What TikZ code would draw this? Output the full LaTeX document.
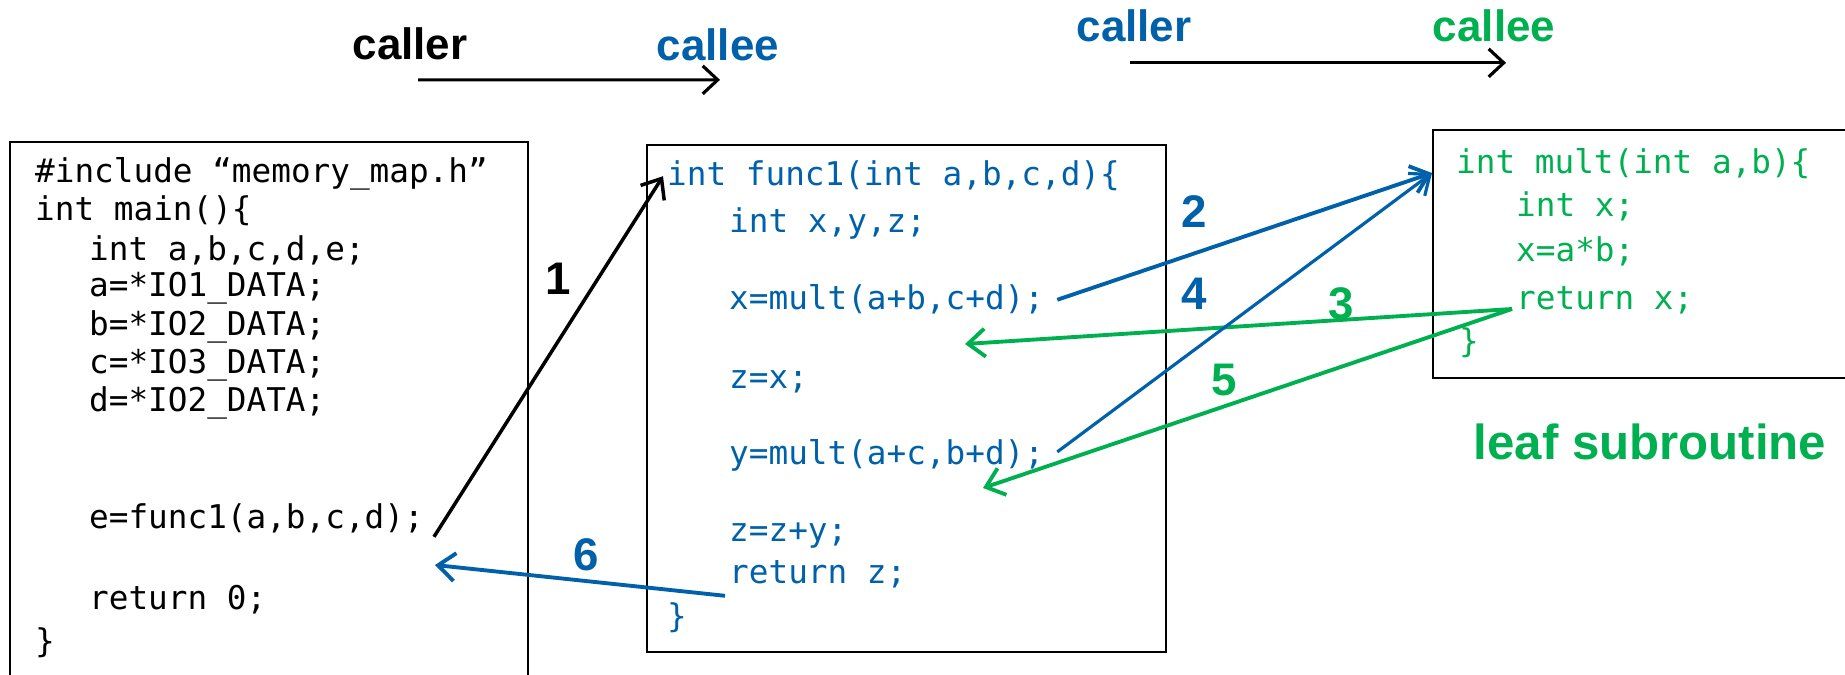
\documentclass[tikz,border=0pt]{standalone}
\usepackage{fontspec}
\setmainfont{Liberation Sans}
\newfontfamily\codefont{DejaVu Sans Mono}
\usetikzlibrary{arrows.meta}

\definecolor{callblue}{RGB}{0,97,170}
\definecolor{leafgreen}{RGB}{0,176,80}

\tikzset{
  code/.style={font=\codefont\fontsize{9.3}{11}\selectfont, inner sep=1pt, anchor=base west},
  codebox/.style={draw, semithick, inner sep=0pt, anchor=north west},
  role/.style={font=\fontsize{12.5}{14}\selectfont\bfseries, anchor=base},
  stepnum/.style={font=\fontsize{13}{15}\selectfont\bfseries},
  flow/.style={-{Straight Barb[length=1.7mm,width=2.8mm]}, line width=1.1pt},
  hint/.style={-{Straight Barb[length=1.5mm,width=2.8mm]}, line width=0.9pt},
}

\begin{document}
\begin{tikzpicture}[x=0.1mm, y=-0.1mm]
  \useasboundingbox (0,0) rectangle (1845,675);

  % caller -> callee legends
  \node[role] (caller1) at (410,60) {caller};
  \node[role, text=callblue] (callee1) at (718,61) {callee};
  \draw[hint] ([shift={(0.8mm,-0.7mm)}]caller1.south) -- ([shift={(0.2mm,-0.6mm)}]callee1.south);

  \node[role, text=callblue] (caller2) at (1134,42) {caller};
  \node[role, text=leafgreen] (callee2) at (1494,42) {callee};
  \draw[hint] ([shift={(-0.4mm,-0.8mm)}]caller2.south) -- ([shift={(1.2mm,-0.8mm)}]callee2.south);

  % main()
  \node[codebox, minimum width=51.8mm, minimum height=56mm] (mainbox) at (9,141) {};
  \node[code] (inc)   at (31,183) {\#include “memory\_map.h”};
  \node[code] (mainhd) at (31,221) {int main()\{};
  \node[code] (decl)  at (85,260) {int a,b,c,d,e;};
  \node[code] (rda)   at (85,297) {a=*IO1\_DATA;};
  \node[code] (rdb)   at (85,336) {b=*IO2\_DATA;};
  \node[code] (rdc)   at (85,374) {c=*IO3\_DATA;};
  \node[code] (rdd)   at (85,411) {d=*IO2\_DATA;};
  \node[code] (efunc) at (85,528) {e=func1(a,b,c,d);};
  \node[code] (ret0)  at (85,609) {return 0;};
  \node[code] (mainend) at (31,652) {\}};

  % func1()
  \node[codebox, minimum width=51.9mm, minimum height=50.7mm] (funcbox) at (646,144) {};
  \begin{scope}[every node/.append style={text=callblue}]
    \node[code] (func1) at (663,186) {int func1(int a,b,c,d)\{};
    \node[code] (fdecl) at (725,233) {int x,y,z;};
    \node[code] (xmult) at (725,310) {x=mult(a+b,c+d);};
    \node[code] (zx)    at (725,388) {z=x;};
    \node[code] (ymult) at (725,464) {y=mult(a+c,b+d);};
    \node[code] (zsum)  at (725,541) {z=z+y;};
    \node[code] (retz)  at (725,583) {return z;};
    \node[code] (funcend) at (663,627) {\}};
  \end{scope}

  % mult(), the leaf
  \node[codebox, minimum width=46.8mm, minimum height=24.8mm] (leafbox) at (1432,129) {};
  \begin{scope}[every node/.append style={text=leafgreen}]
    \node[code] (multhd) at (1452,174) {int mult(int a,b)\{};
    \node[code] (mdecl)  at (1512,217) {int x;};
    \node[code] (mprod)  at (1512,262) {x=a*b;};
    \node[code] (retx)   at (1512,309) {return x;};
    \node[code] (multend) at (1455,353) {\}};
  \end{scope}
  \node[font=\fontsize{14}{16}\selectfont\bfseries, text=leafgreen] (leaf) at (1650,442) {leaf subroutine};

  % return points inside func1 and main
  \coordinate (back1) at (965,344);
  \coordinate (back2) at (983,488);
  \coordinate (back0) at (435,565);
  \coordinate (leafin) at (leafbox.west |- 0,173);

  % numbered steps
  \draw[flow, line width=1pt] ([xshift=0.6mm]efunc.south east) -- (func1.west);
  \draw[flow, callblue] ([xshift=0.9mm]xmult.east) -- (leafin);
  \draw[flow, leafgreen] (retx.base west) -- (back1);
  \draw[flow, callblue, line width=0.9pt] ([shift={(0.9mm,0.3mm)}]ymult.east) -- (leafin);
  \draw[flow, leafgreen] (retx.base west) -- (back2);
  \draw[flow, callblue] ([yshift=-0.4mm]retz.south west) -- (back0);

  \node[stepnum] (n1) at (558,279) {1};
  \node[stepnum, text=callblue] (n2) at (1194,212) {2};
  \node[stepnum, text=leafgreen] (n3) at (1341,304) {3};
  \node[stepnum, text=callblue] (n4) at (1194,294) {4};
  \node[stepnum, text=leafgreen] (n5) at (1224,380) {5};
  \node[stepnum, text=callblue] (n6) at (586,555) {6};
\end{tikzpicture}
\end{document}
